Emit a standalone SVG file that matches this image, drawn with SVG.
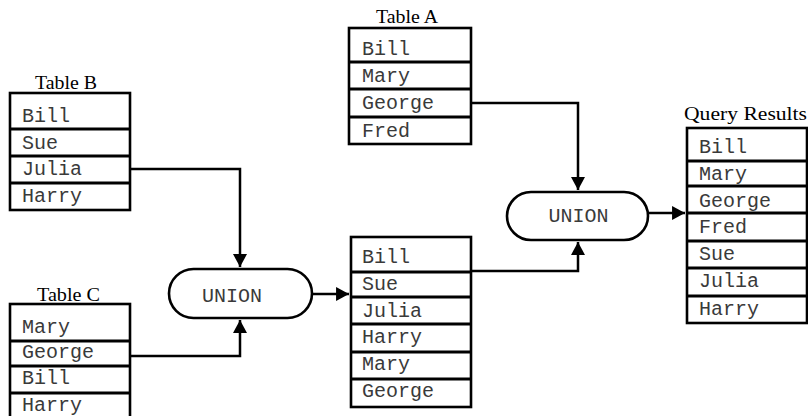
<svg xmlns="http://www.w3.org/2000/svg" width="808" height="416" viewBox="0 0 808 416">
<style>
.box{fill:#fff;stroke:#000;stroke-width:2.6}
.sep{stroke:#000;stroke-width:2.8}
.cell{font-family:"Liberation Mono","Courier New",monospace;font-size:20px;fill:#3a3a3a}
.lbl{font-family:"Liberation Serif","Times New Roman",serif;font-size:19px;fill:#000}
.conn{fill:none;stroke:#000;stroke-width:2.5}
</style>
<defs>
<marker id="ah" markerUnits="userSpaceOnUse" markerWidth="14" markerHeight="14" viewBox="0 0 12 13" refX="12" refY="6.5" orient="auto">
<path d="M0,0 L12,6.5 L0,13 Z" fill="#000"/>
</marker>
</defs>
<rect width="808" height="416" fill="#fff"/>

<g id="tableA">
<text class="lbl" x="376" y="23" textLength="62" lengthAdjust="spacingAndGlyphs">Table A</text>
<rect class="box" x="349" y="28" width="122" height="116"/>
<line class="sep" x1="349" y1="62" x2="471" y2="62"/>
<line class="sep" x1="349" y1="89" x2="471" y2="89"/>
<line class="sep" x1="349" y1="117" x2="471" y2="117"/>
<text class="cell" x="362" y="55">Bill</text>
<text class="cell" x="362" y="82">Mary</text>
<text class="cell" x="362" y="109">George</text>
<text class="cell" x="362" y="137">Fred</text>
</g>

<g id="tableB">
<text class="lbl" x="35" y="89" textLength="62" lengthAdjust="spacingAndGlyphs">Table B</text>
<rect class="box" x="10" y="93" width="120" height="117"/>
<line class="sep" x1="10" y1="129" x2="130" y2="129"/>
<line class="sep" x1="10" y1="156" x2="130" y2="156"/>
<line class="sep" x1="10" y1="183" x2="130" y2="183"/>
<text class="cell" x="22" y="122">Bill</text>
<text class="cell" x="22" y="149">Sue</text>
<text class="cell" x="22" y="175">Julia</text>
<text class="cell" x="22" y="202">Harry</text>
</g>

<g id="tableC">
<text class="lbl" x="37" y="301" textLength="63" lengthAdjust="spacingAndGlyphs">Table C</text>
<rect class="box" x="10" y="304" width="120" height="122"/>
<line class="sep" x1="10" y1="341" x2="130" y2="341"/>
<line class="sep" x1="10" y1="366" x2="130" y2="366"/>
<line class="sep" x1="10" y1="393" x2="130" y2="393"/>
<text class="cell" x="22" y="333">Mary</text>
<text class="cell" x="22" y="358">George</text>
<text class="cell" x="22" y="384">Bill</text>
<text class="cell" x="22" y="411">Harry</text>
</g>

<g id="union1">
<rect class="box" x="169" y="269" width="143" height="49" rx="24.5"/>
<text class="cell" x="232" y="302" text-anchor="middle">UNION</text>
</g>

<g id="mergedTable">
<rect class="box" x="351" y="237" width="120" height="170"/>
<line class="sep" x1="351" y1="272" x2="471" y2="272"/>
<line class="sep" x1="351" y1="297" x2="471" y2="297"/>
<line class="sep" x1="351" y1="324" x2="471" y2="324"/>
<line class="sep" x1="351" y1="352" x2="471" y2="352"/>
<line class="sep" x1="351" y1="379" x2="471" y2="379"/>
<text class="cell" x="362" y="263">Bill</text>
<text class="cell" x="362" y="290">Sue</text>
<text class="cell" x="362" y="317">Julia</text>
<text class="cell" x="362" y="343">Harry</text>
<text class="cell" x="362" y="370">Mary</text>
<text class="cell" x="362" y="397">George</text>
</g>

<g id="union2">
<rect class="box" x="507" y="192" width="141" height="48" rx="24"/>
<text class="cell" x="578.5" y="222" text-anchor="middle">UNION</text>
</g>

<g id="queryResults">
<text class="lbl" x="684" y="120" textLength="123" lengthAdjust="spacingAndGlyphs">Query Results</text>
<rect class="box" x="687" y="128" width="120" height="195"/>
<line class="sep" x1="687" y1="161" x2="807" y2="161"/>
<line class="sep" x1="687" y1="186" x2="807" y2="186"/>
<line class="sep" x1="687" y1="213" x2="807" y2="213"/>
<line class="sep" x1="687" y1="241" x2="807" y2="241"/>
<line class="sep" x1="687" y1="268" x2="807" y2="268"/>
<line class="sep" x1="687" y1="296" x2="807" y2="296"/>
<text class="cell" x="699" y="153">Bill</text>
<text class="cell" x="699" y="180">Mary</text>
<text class="cell" x="699" y="207">George</text>
<text class="cell" x="699" y="233">Fred</text>
<text class="cell" x="699" y="260">Sue</text>
<text class="cell" x="699" y="287">Julia</text>
<text class="cell" x="699" y="315">Harry</text>
</g>

<g id="connectors">
<path class="conn" d="M130,169 H240 V267" marker-end="url(#ah)"/>
<path class="conn" d="M130,356 H240 V320" marker-end="url(#ah)"/>
<path class="conn" d="M312,294 H349" marker-end="url(#ah)"/>
<path class="conn" d="M471,103 H578 V190" marker-end="url(#ah)"/>
<path class="conn" d="M471,271 H578 V242" marker-end="url(#ah)"/>
<path class="conn" d="M648,213 H685" marker-end="url(#ah)"/>
</g>
</svg>
